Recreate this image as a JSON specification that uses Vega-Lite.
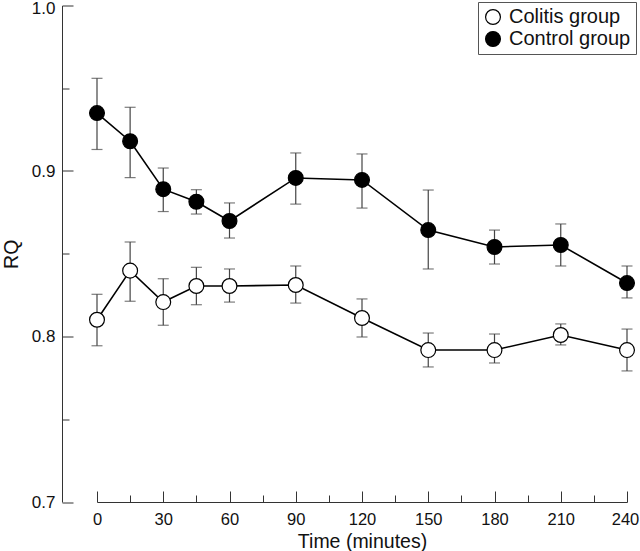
{
  "$schema": "https://vega.github.io/schema/vega-lite/v6.json",
  "autosize": "none",
  "width": 530,
  "height": 496.5,
  "padding": {"left": 97, "top": 5.5, "right": 13, "bottom": 49},
  "config": {
    "view": {"stroke": null},
    "font": "Liberation Sans",
    "axis": {"grid": false, "domainColor": "#333", "tickColor": "#333", "labelColor": "#111", "titleColor": "#111", "labelFont": "Liberation Sans", "titleFont": "Liberation Sans", "titleFontWeight": "normal", "labelFontSize": 16.5, "titleFontSize": 19.5}
  },
  "data": {
    "values": [
      {"t": 0, "group": "Control group", "rq": 0.935, "lo": 0.913, "hi": 0.956},
      {"t": 15, "group": "Control group", "rq": 0.918, "lo": 0.896, "hi": 0.9385},
      {"t": 30, "group": "Control group", "rq": 0.889, "lo": 0.8755, "hi": 0.9018},
      {"t": 45, "group": "Control group", "rq": 0.8814, "lo": 0.874, "hi": 0.8887},
      {"t": 60, "group": "Control group", "rq": 0.8698, "lo": 0.8595, "hi": 0.8807},
      {"t": 90, "group": "Control group", "rq": 0.8958, "lo": 0.880, "hi": 0.9109},
      {"t": 120, "group": "Control group", "rq": 0.8946, "lo": 0.8776, "hi": 0.9103},
      {"t": 150, "group": "Control group", "rq": 0.8643, "lo": 0.8408, "hi": 0.8885},
      {"t": 180, "group": "Control group", "rq": 0.8541, "lo": 0.8438, "hi": 0.8643},
      {"t": 210, "group": "Control group", "rq": 0.8553, "lo": 0.8426, "hi": 0.868},
      {"t": 240, "group": "Control group", "rq": 0.8323, "lo": 0.8233, "hi": 0.8426},
      {"t": 0, "group": "Colitis group", "rq": 0.8101, "lo": 0.7944, "hi": 0.8255},
      {"t": 15, "group": "Colitis group", "rq": 0.8398, "lo": 0.8213, "hi": 0.8571},
      {"t": 30, "group": "Colitis group", "rq": 0.8208, "lo": 0.8068, "hi": 0.8349},
      {"t": 45, "group": "Colitis group", "rq": 0.8305, "lo": 0.8192, "hi": 0.8418},
      {"t": 60, "group": "Colitis group", "rq": 0.8305, "lo": 0.8208, "hi": 0.8408},
      {"t": 90, "group": "Colitis group", "rq": 0.8311, "lo": 0.8202, "hi": 0.8426},
      {"t": 120, "group": "Colitis group", "rq": 0.8112, "lo": 0.7997, "hi": 0.8227},
      {"t": 150, "group": "Colitis group", "rq": 0.7918, "lo": 0.7816, "hi": 0.8021},
      {"t": 180, "group": "Colitis group", "rq": 0.7918, "lo": 0.784, "hi": 0.8015},
      {"t": 210, "group": "Colitis group", "rq": 0.8009, "lo": 0.7949, "hi": 0.8076},
      {"t": 240, "group": "Colitis group", "rq": 0.7918, "lo": 0.7792, "hi": 0.8045}
    ]
  },
  "encoding": {
    "x": {
      "field": "t", "type": "quantitative",
      "scale": {"domain": [0, 240], "nice": false, "zero": false},
      "axis": {
        "title": "Time (minutes)",
        "values": [0, 15, 30, 45, 60, 75, 90, 105, 120, 135, 150, 165, 180, 195, 210, 225, 240],
        "labelExpr": "datum.value % 30 === 0 ? datum.label : ''",
        "tickSize": {"condition": {"test": "datum.value % 30 === 0", "value": -11}, "value": -7},
        "labelOffset": {"condition": {"test": "datum.value === 240", "value": -2}, "value": 0},
        "labelPadding": 20,
        "labelFlush": false,
        "titlePadding": 5
      }
    }
  },
  "layer": [
    {
      "mark": {"type": "rule", "color": "#444", "strokeWidth": 1.2},
      "encoding": {
        "y": {
          "field": "lo", "type": "quantitative",
          "scale": {"domain": [0.7, 1.0], "nice": false, "zero": false},
          "axis": {
            "title": "RQ",
            "offset": 35,
            "values": [0.7, 0.75, 0.8, 0.85, 0.9, 0.95, 1.0],
            "labelExpr": "round(datum.value * 100) % 10 === 0 ? format(datum.value, '.1f') : ''",
            "tickSize": {"condition": {"test": "round(datum.value * 100) % 10 === 0", "value": -11}, "value": -7},
            "labelOffset": {"condition": {"test": "datum.value > 0.99", "value": 3}, "value": 0},
            "labelFontSize": 17,
            "labelPadding": 18,
            "titlePadding": 10
          }
        },
        "y2": {"field": "hi"}
      }
    },
    {
      "mark": {"type": "tick", "orient": "horizontal", "color": "#444", "size": 11, "thickness": 1.2},
      "encoding": {"y": {"field": "hi", "type": "quantitative"}}
    },
    {
      "mark": {"type": "tick", "orient": "horizontal", "color": "#444", "size": 11, "thickness": 1.2},
      "encoding": {"y": {"field": "lo", "type": "quantitative"}}
    },
    {
      "mark": {"type": "line", "color": "black", "strokeWidth": 1.6},
      "encoding": {
        "y": {"field": "rq", "type": "quantitative"},
        "detail": {"field": "group"}
      }
    },
    {
      "mark": {"type": "point", "shape": "circle", "filled": true, "stroke": "black", "strokeWidth": 1.2, "size": 220, "opacity": 1},
      "encoding": {
        "y": {"field": "rq", "type": "quantitative"},
        "fill": {
          "field": "group", "type": "nominal",
          "scale": {"domain": ["Colitis group", "Control group"], "range": ["white", "black"]},
          "legend": {
            "title": null,
            "orient": "none",
            "legendX": 381,
            "legendY": -3.5,
            "strokeColor": "#555",
            "padding": 5,
            "fillColor": "white",
            "labelFont": "Liberation Sans",
            "labelFontSize": 20,
            "labelColor": "#111",
            "symbolSize": 220,
            "symbolStrokeColor": "black",
            "symbolStrokeWidth": 1.2,
            "labelOffset": 6,
            "rowPadding": 2
          }
        }
      }
    }
  ]
}
